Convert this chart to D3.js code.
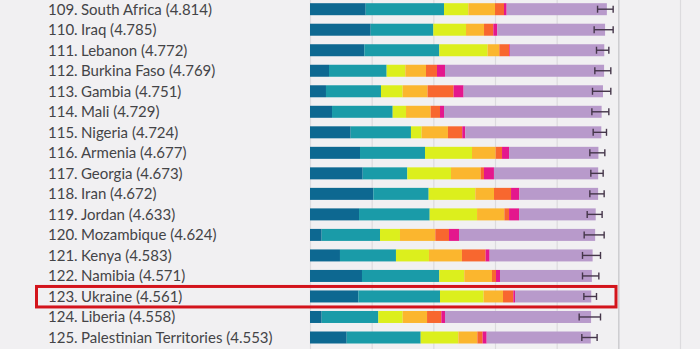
<!DOCTYPE html>
<html>
<head>
<meta charset="utf-8">
<script src="https://d3js.org/d3.v7.min.js"></script>
<style>
  html, body { margin: 0; padding: 0; background: #f1f0f2; }
  svg { display: block; }
</style>
</head>
<body>
<svg width="700" height="349"></svg>
<script>
  // happiness ranking, ranks 109-125
  var ranks = [109, 110, 111, 112, 113, 114, 115, 116, 117, 118, 119, 120, 121, 122, 123, 124, 125];
  var countries = ['South Africa', 'Iraq', 'Lebanon', 'Burkina Faso', 'Gambia', 'Mali', 'Nigeria', 'Armenia',
    'Georgia', 'Iran', 'Jordan', 'Mozambique', 'Kenya', 'Namibia', 'Ukraine', 'Liberia', 'Palestinian Territories'];
  var scores = [4.814, 4.785, 4.772, 4.769, 4.751, 4.729, 4.724, 4.677, 4.673, 4.672, 4.633, 4.624, 4.583, 4.571, 4.561, 4.558, 4.553];

  // explained by ...
  var gdp        = [0.903, 0.984, 0.881, 0.308, 0.259, 0.357, 0.659, 0.811, 0.854, 1.027, 0.795, 0.189, 0.486, 0.843, 0.784, 0.189, 0.595];
  var social     = [1.270, 1.016, 1.216, 0.935, 0.892, 0.984, 0.978, 1.054, 0.724, 0.897, 1.146, 0.946, 0.908, 1.254, 1.324, 0.919, 1.200];
  var health     = [0.395, 0.530, 0.784, 0.303, 0.351, 0.216, 0.173, 0.762, 0.708, 0.757, 0.768, 0.324, 0.535, 0.405, 0.708, 0.395, 0.611];
  var freedom    = [0.432, 0.292, 0.189, 0.335, 0.405, 0.400, 0.427, 0.384, 0.481, 0.303, 0.443, 0.573, 0.535, 0.449, 0.314, 0.395, 0.308];
  var generosity = [0.146, 0.151, 0.162, 0.178, 0.422, 0.151, 0.232, 0.103, 0.054, 0.276, 0.076, 0.222, 0.384, 0.065, 0.168, 0.232, 0.086];
  var corruption = [0.043, 0.065, 0.011, 0.130, 0.162, 0.065, 0.049, 0.114, 0.162, 0.135, 0.162, 0.162, 0.065, 0.065, 0.027, 0.059, 0.065];
  var dystopia   = [1.625, 1.747, 1.529, 2.580, 2.260, 2.556, 2.206, 1.449, 1.690, 1.277, 1.243, 2.208, 1.670, 1.490, 1.236, 2.369, 1.688];

  // 95% confidence interval
  var ciLow  = [4.663, 4.608, 4.646, 4.619, 4.581, 4.571, 4.592, 4.538, 4.554, 4.538, 4.495, 4.446, 4.419, 4.419, 4.441, 4.365, 4.408];
  var ciHigh = [4.916, 4.916, 4.846, 4.878, 4.878, 4.846, 4.808, 4.781, 4.754, 4.770, 4.737, 4.770, 4.711, 4.684, 4.646, 4.711, 4.656];

  var parts = ['gdp', 'social', 'health', 'freedom', 'generosity', 'corruption', 'dystopia'];
  var colors = ['#0d6891', '#1a9ba8', '#dcef1d', '#fbb62e', '#f8672f', '#e4178d', '#b89acb'];
  var highlight = 'Ukraine';

  var rows = countries.map(function(c, i) {
    return {
      rank: ranks[i], country: c, score: scores[i],
      gdp: gdp[i], social: social[i], health: health[i], freedom: freedom[i],
      generosity: generosity[i], corruption: corruption[i], dystopia: dystopia[i],
      lo: ciLow[i], hi: ciHigh[i]
    };
  });

  var svg = d3.select('svg');
  var barH = 12;

  var x = d3.scaleLinear().domain([0, 6]).range([310, 680]);
  var y = d3.scalePoint().domain(countries).range([9.2, 337.5]);
  var color = d3.scaleOrdinal().domain(parts).range(colors);

  // vertical grid
  svg.append('g')
    .selectAll('line')
    .data(d3.range(0, 7))
    .enter()
    .append('line')
    .attr('x1', function(d) { return x(d) + 0.5; })
    .attr('x2', function(d) { return x(d) + 0.5; })
    .attr('y1', 0)
    .attr('y2', 349)
    .attr('stroke', function(d) { return d == 5 ? '#c4c3c7' : '#dcdbde'; })
    .attr('stroke-width', 1.2);

  var stack = d3.stack().keys(parts)(rows);

  svg.append('g')
    .selectAll('g')
    .data(stack)
    .enter()
    .append('g')
    .attr('fill', function(d) { return color(d.key); })
    .selectAll('rect')
    .data(function(d) { return d; })
    .enter()
    .append('rect')
    .attr('x', function(d) { return x(d[0]); })
    .attr('width', function(d) { return x(d[1]) - x(d[0]); })
    .attr('y', function(d) { return y(d.data.country) - barH / 2; })
    .attr('height', barH);

  // error bars
  var err = svg.append('g')
    .attr('stroke', '#45364a')
    .attr('stroke-width', 1.4)
    .selectAll('g')
    .data(rows)
    .enter()
    .append('g')
    .attr('transform', function(d) { return 'translate(0,' + y(d.country) + ')'; });

  err.append('line')
    .attr('x1', function(d) { return x(d.lo); })
    .attr('x2', function(d) { return x(d.hi); });
  err.append('line')
    .attr('x1', function(d) { return x(d.lo); })
    .attr('x2', function(d) { return x(d.lo); })
    .attr('y1', -3.5).attr('y2', 3.5);
  err.append('line')
    .attr('x1', function(d) { return x(d.hi); })
    .attr('x2', function(d) { return x(d.hi); })
    .attr('y1', -3.5).attr('y2', 3.5);

  // labels
  var labels = svg.append('g')
    .attr('font-family', 'Lato, sans-serif')
    .attr('font-size', 15)
    .attr('fill', '#444447');

  labels.selectAll('text.rank')
    .data(rows)
    .enter()
    .append('text')
    .attr('class', 'rank')
    .attr('x', 48)
    .attr('y', function(d) { return y(d.country) + 5.3; })
    .text(function(d) { return d.rank + '.'; });

  labels.selectAll('text.name')
    .data(rows)
    .enter()
    .append('text')
    .attr('class', 'name')
    .attr('x', 81)
    .attr('y', function(d) { return y(d.country) + 5.3; })
    .text(function(d) { return d.country + ' (' + d3.format('.3f')(d.score) + ')'; });

  // box around the highlighted country
  svg.append('rect')
    .attr('x', 36.5)
    .attr('y', y(highlight) - 10)
    .attr('width', 616 - 36.5)
    .attr('height', 20.5)
    .attr('fill', 'none')
    .attr('stroke', '#d3141c')
    .attr('stroke-width', 3);
</script>
</body>
</html>
